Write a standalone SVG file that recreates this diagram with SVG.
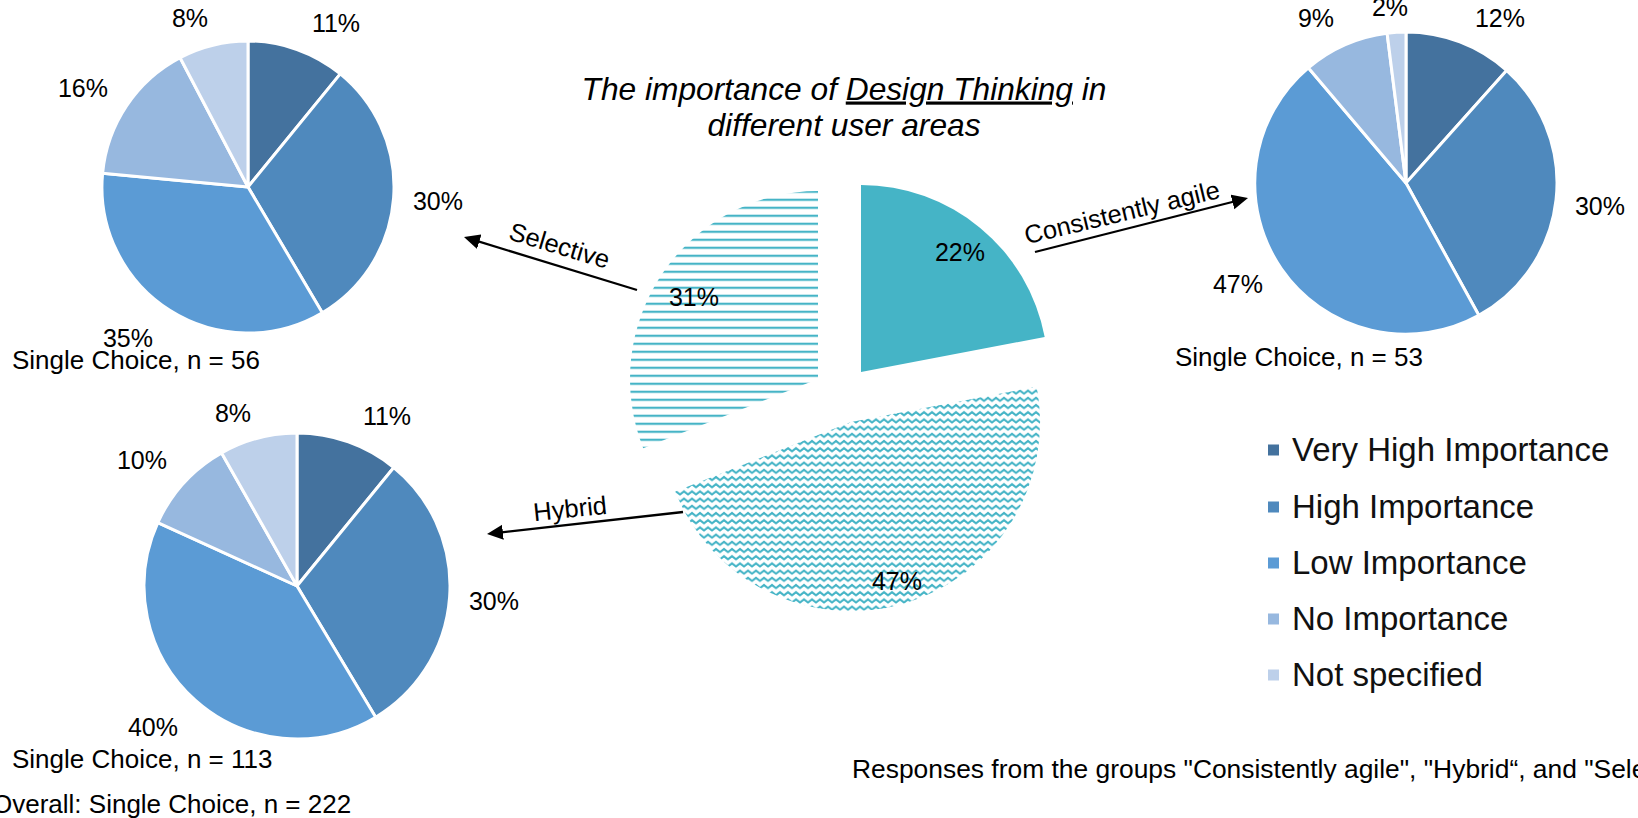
<svg xmlns="http://www.w3.org/2000/svg" width="1638" height="818" viewBox="0 0 1638 818">
<style>
text { font-family: "Liberation Sans", Arial, sans-serif; fill: #000; }
.pct { font-size: 25px; text-anchor: middle; }
.cap { font-size: 26px; }
.foot { font-size: 26.4px; }
.lbl { font-size: 25.5px; text-anchor: middle; }
.leg { font-size: 33px; fill: #111; }
.title { font-size: 31.7px; font-style: italic; text-anchor: middle; }
.sl { stroke: #fff; stroke-width: 3; stroke-linejoin: round; }
.vh { fill: #44729E; } .hi { fill: #4F89BD; } .lo { fill: #5B9BD5; } .no { fill: #97B8DF; } .ns { fill: #BDD0EA; }
.conn { stroke: #000; stroke-width: 2.3; fill: none; marker-end: url(#arr); }
</style>
<defs>
<marker id="arr" markerUnits="userSpaceOnUse" markerWidth="18" markerHeight="16" refX="12" refY="8" orient="auto">
<path d="M0,0.5 L16,8 L0,15.5 Z" fill="#000"/>
</marker>
<pattern id="stripes" patternUnits="userSpaceOnUse" x="0" y="254.7" width="10" height="8">
<rect x="0" y="0" width="10" height="2.2" fill="#45B4C6"/>
</pattern>
<pattern id="zigzag" patternUnits="userSpaceOnUse" x="0" y="0" width="8" height="7.2">
<path d="M-0.5,5.3 L4,1.8 L8.5,5.3" fill="none" stroke="#45B4C6" stroke-width="2"/>
</pattern>
</defs>

<g id="title">
<text class="title" x="844" y="99.5">The importance of <tspan text-decoration="underline">Design Thinking</tspan> in</text>
<text class="title" x="844" y="136">different user areas</text>
</g>

<g id="main-pie">
<path d="M861,372 L861,185 A187,187 0 0 1 1044.7,337 Z" fill="#45B4C6"/>
<path d="M818,379 L643.2,448.2 A188,188 0 0 1 818,191 Z" fill="url(#stripes)"/>
<path d="M851,422 L1036.7,386.6 A189,189 0 0 1 675.3,491.6 Z" fill="url(#zigzag)"/>
<text class="pct" x="960" y="261">22%</text>
<text class="pct" x="694" y="306">31%</text>
<text class="pct" x="897" y="590">47%</text>
</g>

<g id="pie-selective">
<path class="sl vh" d="M248,187 L248,41 A146,146 0 0 1 340.3,73.9 Z"/>
<path class="sl hi" d="M248,187 L340.3,73.9 A146,146 0 0 1 322.3,312.7 Z"/>
<path class="sl lo" d="M248,187 L322.3,312.7 A146,146 0 0 1 102.6,173.3 Z"/>
<path class="sl no" d="M248,187 L102.6,173.3 A146,146 0 0 1 180.1,57.7 Z"/>
<path class="sl ns" d="M248,187 L180.1,57.7 A146,146 0 0 1 248,41 Z"/>
<text class="pct" x="190" y="27">8%</text>
<text class="pct" x="336" y="32">11%</text>
<text class="pct" x="83" y="97">16%</text>
<text class="pct" x="438" y="210">30%</text>
<text class="pct" x="128" y="347">35%</text>
<text class="cap" x="12" y="369">Single Choice, n = 56</text>
</g>

<g id="pie-agile">
<path class="sl vh" d="M1406,183 L1406,32 A151,151 0 0 1 1506.6,70.4 Z"/>
<path class="sl hi" d="M1406,183 L1506.6,70.4 A151,151 0 0 1 1478.8,315.3 Z"/>
<path class="sl lo" d="M1406,183 L1478.8,315.3 A151,151 0 0 1 1308.3,67.8 Z"/>
<path class="sl no" d="M1406,183 L1308.3,67.8 A151,151 0 0 1 1387.1,33.2 Z"/>
<path class="sl ns" d="M1406,183 L1387.1,33.2 A151,151 0 0 1 1406,32 Z"/>
<text class="pct" x="1390" y="15.5">2%</text>
<text class="pct" x="1316" y="27">9%</text>
<text class="pct" x="1500" y="27">12%</text>
<text class="pct" x="1600" y="215">30%</text>
<text class="pct" x="1238" y="293">47%</text>
<text class="cap" x="1175" y="366">Single Choice, n = 53</text>
</g>

<g id="pie-hybrid">
<path class="sl vh" d="M297,586 L297,433 A153,153 0 0 1 393.8,467.5 Z"/>
<path class="sl hi" d="M297,586 L393.8,467.5 A153,153 0 0 1 375.7,717.2 Z"/>
<path class="sl lo" d="M297,586 L375.7,717.2 A153,153 0 0 1 157.8,522.6 Z"/>
<path class="sl no" d="M297,586 L157.8,522.6 A153,153 0 0 1 221.6,452.9 Z"/>
<path class="sl ns" d="M297,586 L221.6,452.9 A153,153 0 0 1 297,433 Z"/>
<text class="pct" x="233" y="422">8%</text>
<text class="pct" x="387" y="425">11%</text>
<text class="pct" x="142" y="469">10%</text>
<text class="pct" x="494" y="610">30%</text>
<text class="pct" x="153" y="736">40%</text>
<text class="cap" x="12" y="768">Single Choice, n = 113</text>
</g>

<g id="overall-note">
<text class="cap" x="-8" y="813">Overall: Single Choice, n = 222</text>
</g>

<g id="connectors">
<path class="conn" d="M637,290 L467.8,238.2"/>
<path class="conn" d="M1035,252 L1244.1,199"/>
<path class="conn" d="M683,512 L491,533.6"/>
<text class="lbl" transform="translate(557,254) rotate(16.8)">Selective</text>
<text class="lbl" transform="translate(1124,221) rotate(-13.5)">Consistently agile</text>
<text class="lbl" transform="translate(571,517.5) rotate(-6)">Hybrid</text>
</g>

<g id="legend">
<rect class="vh" x="1268" y="444.5" width="11" height="11"/>
<text class="leg" x="1292" y="461">Very High Importance</text>
<rect class="hi" x="1268" y="501.5" width="11" height="11"/>
<text class="leg" x="1292" y="518">High Importance</text>
<rect class="lo" x="1268" y="557.5" width="11" height="11"/>
<text class="leg" x="1292" y="574">Low Importance</text>
<rect class="no" x="1268" y="613.5" width="11" height="11"/>
<text class="leg" x="1292" y="630">No Importance</text>
<rect class="ns" x="1268" y="669.5" width="11" height="11"/>
<text class="leg" x="1292" y="686">Not specified</text>
</g>

<g id="footnote">
<text class="foot" x="852" y="778">Responses from the groups "Consistently agile", "Hybrid“, and "Sele</text>
</g>
</svg>
